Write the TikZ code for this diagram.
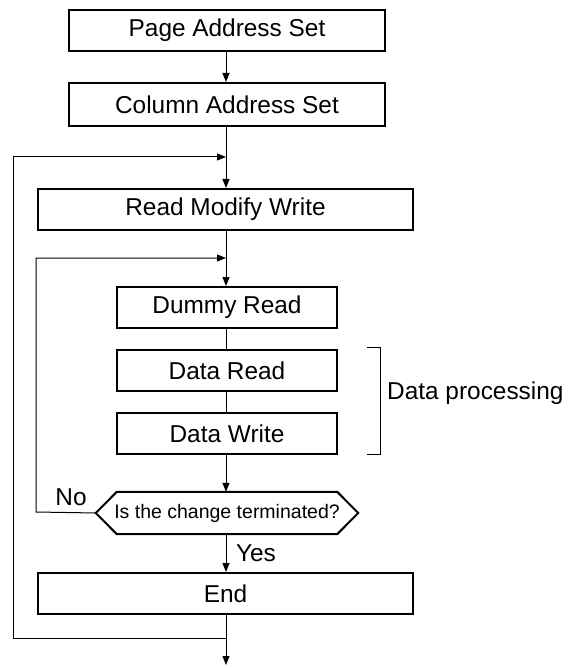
\documentclass[tikz,border=0pt]{standalone}
\usepackage{fontspec}
\setmainfont{Liberation Sans}
\usetikzlibrary{arrows.meta}
\begin{document}
\begin{tikzpicture}[x=1pt,y=-1pt,
  box/.style={draw, line width=2pt, inner sep=0pt, minimum height=41pt, font=\fontsize{24.4}{28}\selectfont},
  thin/.style={line width=1pt},
  arr/.style={line width=1pt, -{Triangle[length=9pt,width=7pt]}},
  lbl/.style={inner sep=0pt, font=\fontsize{24.4}{28}\selectfont}]
\useasboundingbox (0,0) rectangle (567,668);
\node[box, minimum width=316pt] (page) at (227,30.5) {Page Address Set};
\node[box, minimum width=316pt, minimum height=43pt] (col) at (227,104.5) {Column Address Set};
\node[box, minimum width=375pt] (rmw) at (225.5,209.5) {Read Modify Write};
\node[box, minimum width=220pt] (dummy) at (227,307.5) {Dummy Read};
\node[box, minimum width=220pt] (dread) at (227,370.5) {Data Read};
\node[box, minimum width=220pt] (dwrite) at (227,433.5) {Data Write};
\node[inner sep=0pt, minimum width=262pt, minimum height=42pt, font=\fontsize{19.5}{22}\selectfont] (hex) at (227,513) {Is the change terminated?};
\draw[line width=2pt, line join=miter] (hex.west) -- ([xshift=21pt]hex.north west) -- ([xshift=-21pt]hex.north east) -- (hex.east) -- ([xshift=-21pt]hex.south east) -- ([xshift=21pt]hex.south west) -- cycle;
\node[box, minimum width=375pt] (end) at (225.5,593.5) {End};

\coordinate (j1) at (226,157);
\coordinate (j2) at (226,258);
\coordinate (j3) at (226,638);
\coordinate (out) at (226,665);
\coordinate (ol) at (13,638);
\coordinate (il) at (36,512);

\draw[arr] (page.south -| j1) -- (col.north -| j1);
\draw[arr] (col.south -| j1) -- (rmw.north -| j1);
\draw[arr] (rmw.south -| j1) -- (dummy.north -| j1);
\draw[thin] (dummy.south -| j1) -- (dread.north -| j1);
\draw[thin] (dread.south -| j1) -- (dwrite.north -| j1);
\draw[arr] (dwrite.south -| j1) -- (hex.north -| j1);
\draw[arr] (hex.south -| j1) -- (end.north -| j1);
\draw[arr] (end.south -| j1) -- (out);
\draw[arr] (j3) -- (ol) |- (j1);
\draw[arr] (hex.west) -- (il) |- (j2);

\draw[thin] (367,347) -- (380,347) -- (380,454) -- (367,454);
\node[lbl, anchor=west] (dp) at (387,393) {Data processing};
\node[lbl] (yes) at (256,553) {Yes};
\node[lbl] (no) at (71,497) {No};
\end{tikzpicture}
\end{document}
